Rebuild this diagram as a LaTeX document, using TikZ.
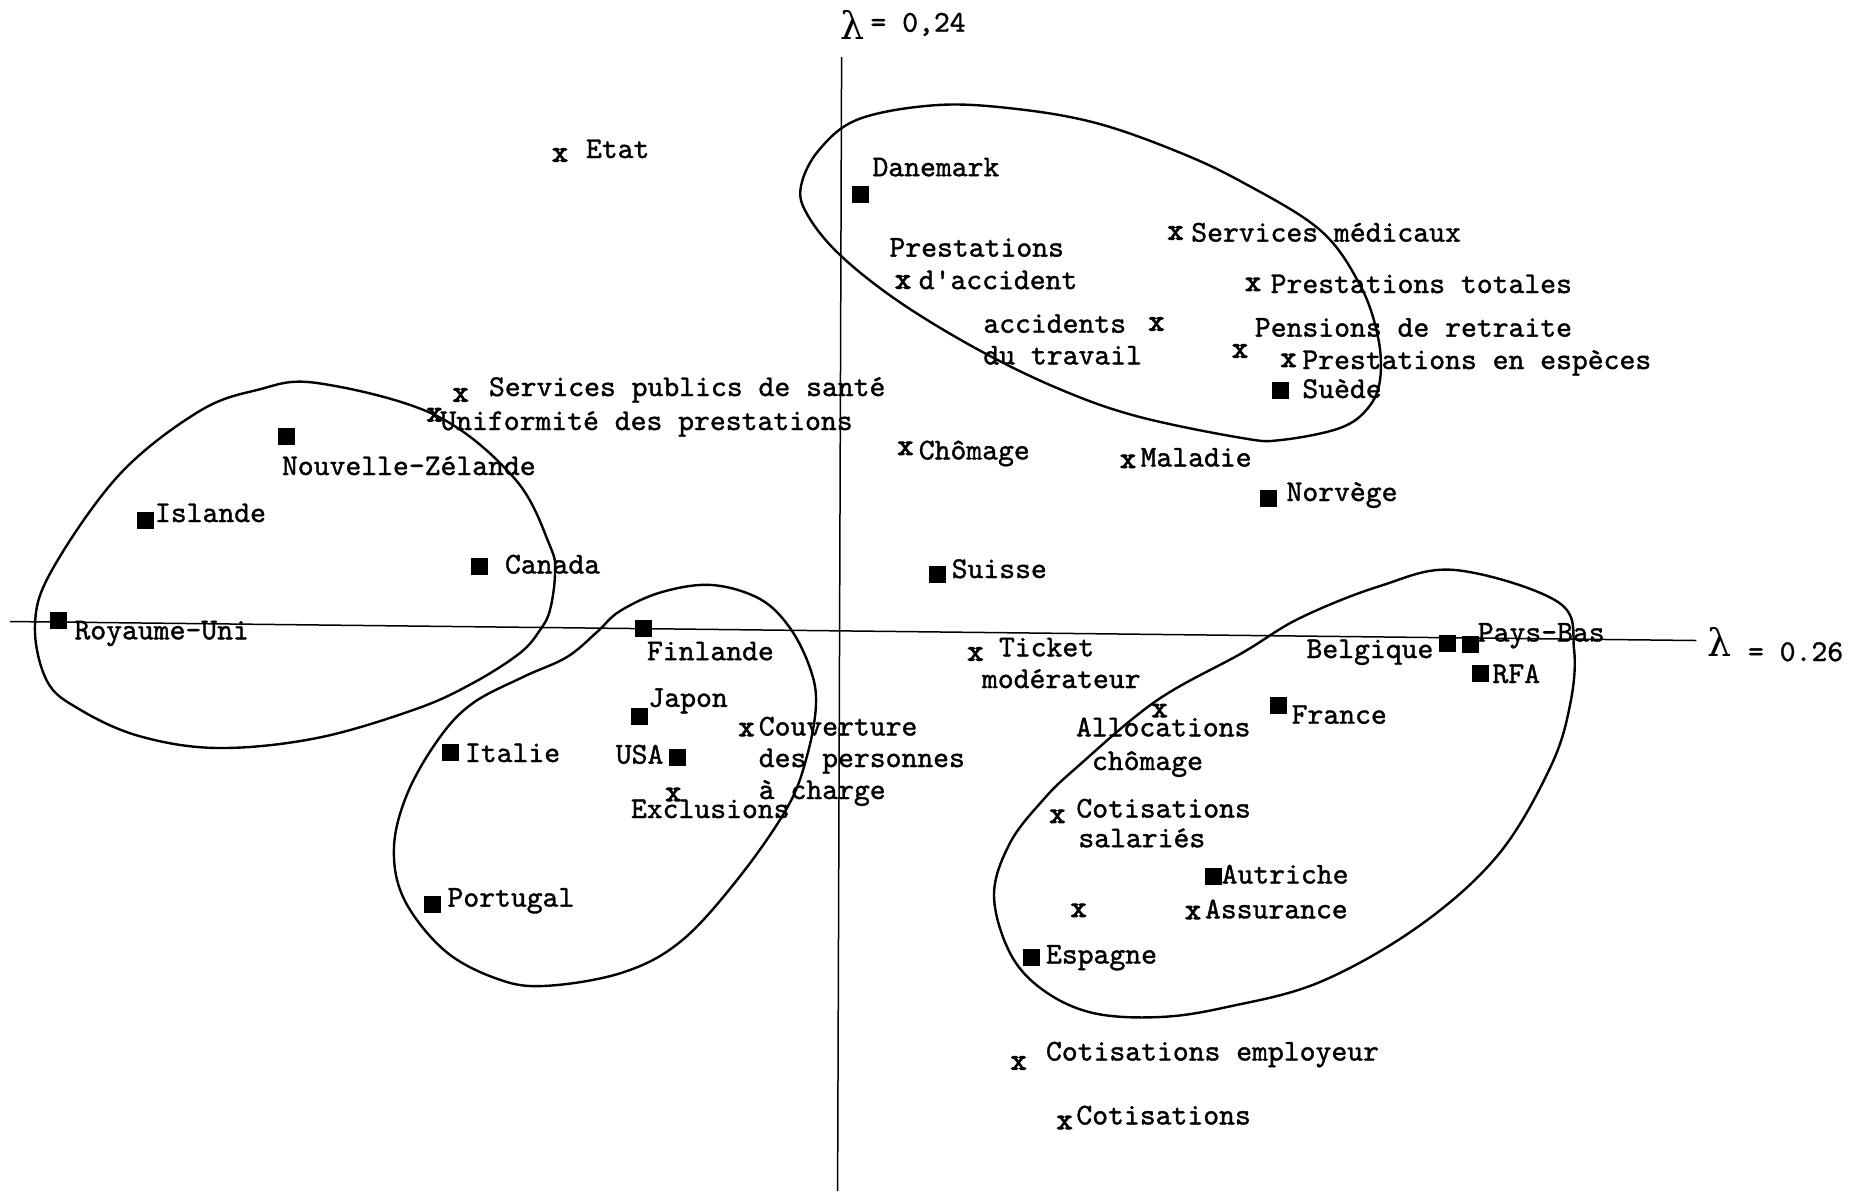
\documentclass[tikz,border=0pt]{standalone}
\usepackage{fontspec}
\newfontfamily\tw[FakeBold=1.2]{lmmono10-regular.otf}
\newfontfamily\twx[FakeBold=3.5]{lmmono10-regular.otf}
\newfontfamily\lamf{DejaVu Serif}
\begin{document}
\begin{tikzpicture}[x=0.5pt,y=-0.5pt,
  every node/.style={inner sep=0pt,outer sep=0pt,font=\tw\fontsize{15.1}{18}\selectfont},
  lbl/.style={anchor=base west},
  sq/.style={rectangle,fill=black,minimum size=8.5pt},
  xm/.style={anchor=center,font=\twx\fontsize{15.1}{18}\selectfont},
  blob/.style={line width=1.2pt,line join=round},
  axis/.style={line width=0.75pt},
  lam/.style={anchor=center,font=\lamf\fontsize{19}{22}\selectfont}]
\useasboundingbox[fill=white] (0,0) rectangle (1862,1191);

% axes
\coordinate (vtop) at (841.6,57);
\coordinate (vbot) at (837.6,1191);
\coordinate (hleft) at (10,621.5);
\coordinate (hright) at (1696.4,640.5);
\draw[axis] (vtop) -- (vbot);
\draw[axis] (hleft) -- (hright);
\node[lam] (lamv) at (853,25) {λ};
\node[lbl] (lamvt) at (870.5,31.7) {= 0,24};
\node[lam] (lamh) at (1720,642) {λ};
\node[lbl] (lamht) at (1748,661) {= 0.26};

% clusters
\draw[blob] plot[smooth cycle,tension=0.6] coordinates {(801,186) (819,150) (859,119) (938,105) (1017,109) (1096,123) (1176,151) (1242,182) (1320,230) (1360,285) (1378,337) (1380,380) (1368,408) (1340,428) (1281,440) (1242,438) (1136,416) (1057,388) (977,349) (898,301) (839,254) (807,214)};
\draw[blob] plot[smooth cycle,tension=0.6] coordinates {(317,383) (435,415) (515,479) (550,546) (555,573) (550,610) (540,630) (520,653) (473,683) (416,709) (317,738) (218,748) (139,736) (79,709) (47,681) (35,625) (52,570) (119,475) (198,412) (257,390)};
\draw[blob] plot[smooth cycle,tension=0.6] coordinates {(712,585) (760,599) (790,628) (810,668) (816,704) (807,756) (787,808) (737,880) (680,942) (621,973) (543,986) (495,978) (444,950) (404,899) (394,847) (408,792) (440,737) (473,703) (523,677) (567,657) (597,632) (620,611) (662,592)};
\draw[blob] plot[smooth cycle,tension=0.6] coordinates {(1455,570) (1558,602) (1574,649) (1570,705) (1550,768) (1498,855) (1419,926) (1320,982) (1227,1007) (1160,1017) (1093,1013) (1043,990) (1010,953) (994,895) (1010,843) (1043,800) (1076,768) (1156,701) (1242,653) (1300,618) (1380,586)};

% upper left
\node[xm] (etatx) at (560,155) {x};
\node[lbl] (etat) at (586,158) {Etat};
\node[xm] (spsx) at (460.6,395) {x};
\node[lbl] (sps) at (489,396) {Services publics de santé};
\node[xm] (unifx) at (434.5,414.7) {x};
\node[lbl] (unif) at (440.4,430) {Uniformité des prestations};
\node[sq] (nzs) at (286,436.4) {};
\node[lbl] (nz) at (282,475) {Nouvelle-Zélande};
\node[sq] (isls) at (145,520.8) {};
\node[lbl] (isl) at (155,522) {Islande};
\node[sq] (cans) at (479.2,566) {};
\node[lbl] (can) at (505,573.5) {Canada};
\node[sq] (rus) at (58.2,620.7) {};
\node[lbl] (ru) at (74.5,639.3) {Royaume-Uni};

% middle left group
\node[sq] (fins) at (643.5,628) {};
\node[lbl] (fin) at (647,660.2) {Finlande};
\node[sq] (japs) at (639.3,716.6) {};
\node[lbl] (jap) at (648.5,706.8) {Japon};
\node[lbl] (usa) at (615.8,763.6) {USA};
\node[sq] (usas) at (677.6,757.2) {};
\node[sq] (itas) at (450.7,752) {};
\node[lbl] (ita) at (465,762) {Italie};
\node[sq] (pors) at (432.9,904.6) {};
\node[lbl] (por) at (447.5,906.6) {Portugal};
\node[xm] (exclx) at (673.3,794.5) {x};
\node[lbl] (excl) at (631,818) {Exclusions};
\node[xm] (couvx) at (746.5,729.6) {x};
\node[lbl] (couv1) at (758.8,735.5) {Couverture};
\node[lbl] (couv2) at (758.8,767) {des personnes};
\node[lbl] (couv3) at (758.8,799) {à charge};

% upper right group
\node[sq] (dks) at (860.6,194) {};
\node[lbl] (dk) at (872.5,176.2) {Danemark};
\node[lbl] (pa1) at (889.5,256.6) {Prestations};
\node[xm] (pax) at (903,282) {x};
\node[lbl] (pa2) at (918.8,289.1) {d'accident};
\node[lbl] (at1) at (983.4,332.7) {accidents};
\node[lbl] (at2) at (983.4,364.4) {du travail};
\node[xm] (atx) at (1156.4,324) {x};
\node[xm] (smx) at (1175.5,233) {x};
\node[lbl] (sm) at (1191.3,241.6) {Services médicaux};
\node[xm] (ptx) at (1253,284.4) {x};
\node[lbl] (pt) at (1270.7,293) {Prestations totales};
\node[lbl] (pr) at (1254.9,336.6) {Pensions de retraite};
\node[xm] (prx) at (1240,351) {x};
\node[xm] (pex) at (1288.5,360.4) {x};
\node[lbl] (pe) at (1302.4,369) {Prestations en espèces};
\node[sq] (sus) at (1280.6,390) {};
\node[lbl] (su) at (1302.4,398) {Suède};
\node[sq] (nos) at (1268.7,498.2) {};
\node[lbl] (no) at (1286.5,501) {Norvège};
\node[xm] (chx) at (905.4,448.3) {x};
\node[lbl] (ch) at (918.8,459.4) {Chômage};
\node[xm] (max) at (1128,461.4) {x};
\node[lbl] (ma) at (1140.6,466.5) {Maladie};
\node[sq] (sws) at (937.8,574) {};
\node[lbl] (sw) at (951.7,578) {Suisse};

% lower right group
\node[xm] (tmx) at (975.4,654) {x};
\node[lbl] (tm1) at (999,656.3) {Ticket};
\node[lbl] (tm2) at (982,688) {modérateur};
\node[xm] (acx) at (1159.6,710.6) {x};
\node[lbl] (ac1) at (1076,736.3) {Allocations};
\node[lbl] (ac2) at (1092,770) {chômage};
\node[xm] (csx) at (1057.4,816.3) {x};
\node[lbl] (cs1) at (1076.4,817.5) {Cotisations};
\node[lbl] (cs2) at (1078.4,847.2) {salariés};
\node[xm] (ux) at (1078.6,910.3) {x};
\node[xm] (asx) at (1193,912.6) {x};
\node[lbl] (as) at (1205,918.3) {Assurance};
\node[sq] (aus) at (1213.2,876.8) {};
\node[lbl] (au) at (1221.7,883.5) {Autriche};
\node[sq] (ess) at (1031.7,957.7) {};
\node[lbl] (es) at (1046,963.5) {Espagne};
\node[xm] (cex) at (1018.6,1063) {x};
\node[lbl] (ce) at (1046,1060.5) {Cotisations employeur};
\node[xm] (cox) at (1064.6,1122.5) {x};
\node[lbl] (co) at (1076.4,1124.4) {Cotisations};
\node[sq] (bes) at (1447.7,643.3) {};
\node[lbl] (be) at (1306.5,658) {Belgique};
\node[sq] (pbs) at (1470.7,644.5) {};
\node[lbl] (pb) at (1477.8,641.5) {Pays-Bas};
\node[sq] (rfas) at (1480.6,673) {};
\node[lbl] (rfa) at (1492.5,683) {RFA};
\node[sq] (frs) at (1278.6,705.4) {};
\node[lbl] (fr) at (1291.7,723.7) {France};
\end{tikzpicture}
\end{document}
